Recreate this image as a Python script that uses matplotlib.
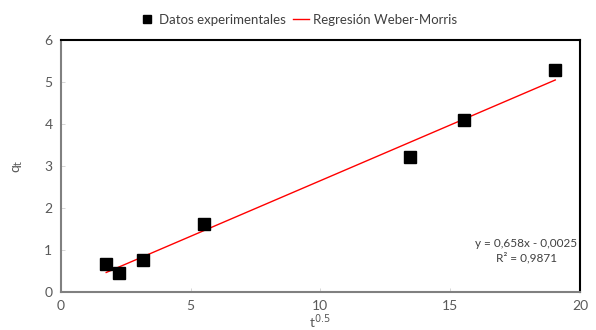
import matplotlib.pyplot as plt
import numpy as np

# Datos
t_raiz = [1.75, 2.25, 3.15, 5.5, 13.45, 15.55, 19.05]
q_t = [0.67, 0.45, 0.77, 1.61, 3.22, 4.09, 5.28]

plt.rcParams['font.family'] = ['Lato', 'DejaVu Sans']

fig = plt.figure(figsize=(5.96, 3.30), dpi=100)
ax = fig.add_axes([0.102, 0.115, 0.871, 0.764])

# Recta de regresión ajustada a los puntos
coef = np.polyfit(t_raiz, q_t, 1)
x_lin = np.array([min(t_raiz), max(t_raiz)])
ax.plot(x_lin, np.polyval(coef, x_lin), color='#ff0000', lw=1.0,
        label='Regresión Weber-Morris', zorder=2)
ax.plot(t_raiz, q_t, 's', color='black', ms=8, label='Datos experimentales', zorder=3)

ax.set_xlim(0, 20)
ax.set_ylim(0, 6)
ax.set_xticks([0, 5, 10, 15, 20])
ax.set_yticks([0, 1, 2, 3, 4, 5, 6])
ax.tick_params(colors='#595959', labelsize=10, length=3, direction='in', width=0.6, pad=6)
ax.tick_params(axis='both', color='#d0d0d0')

for s in ['left', 'bottom']:
    ax.spines[s].set_color('#808080')
    ax.spines[s].set_linewidth(1.5)
for s in ['top', 'right']:
    ax.spines[s].set_color('black')
    ax.spines[s].set_linewidth(1.5)

ax.set_xlabel('t$^{0.5}$', fontsize=10, color='#595959', labelpad=0)
ax.set_ylabel('q$_{\\mathrm{t}}$', fontsize=10, color='#595959', labelpad=14)

ax.text(19.9, 0.98, 'y = 0,658x - 0,0025\nR² = 0,9871', ha='right', va='center',
        multialignment='center', fontsize=8.5, color='#404040', linespacing=1.25)

handles, labels = ax.get_legend_handles_labels()
fig.legend(handles[::-1], labels[::-1], loc='center', bbox_to_anchor=(0.5, 0.94),
           ncol=2, frameon=False, fontsize=9.5, handlelength=1.2, handletextpad=0.3,
           columnspacing=0.6, markerscale=0.7, labelcolor='#404040')

fig.savefig('out.png', dpi=100, facecolor='white')
